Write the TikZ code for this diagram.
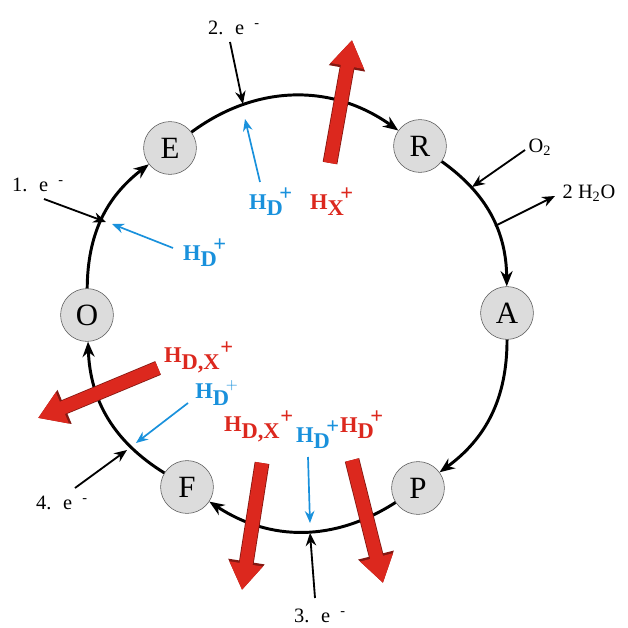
\documentclass[tikz,border=0pt]{standalone}
\usepackage{fontspec}
\setmainfont{Liberation Serif}
\usetikzlibrary{arrows.meta}
\definecolor{protonblue}{RGB}{25,145,220}
\definecolor{protonred}{RGB}{220,40,30}
\definecolor{statefill}{RGB}{220,220,220}
\tikzset{
  intermediate/.style={circle, draw=black!65, thin, fill=statefill,
    minimum size=1.32cm, inner sep=0pt, font=\fontsize{22}{24}\selectfont},
  cyclearrow/.style={-{Stealth[length=0.38cm, width=0.3cm]}, line width=2.1pt},
  electron/.style={-{Stealth[length=0.32cm, width=0.26cm]}, line width=1.3pt},
  uptake/.style={-{Stealth[length=0.3cm, width=0.24cm]}, line width=1.2pt, protonblue},
  pumpedge/.style={-{Triangle[length=0.72cm, width=0.87cm]}, line width=0.37cm, protonred!60!black},
  pump/.style={-{Triangle[length=0.66cm, width=0.8cm]}, line width=0.33cm, protonred},
  elbl/.style={font=\fontsize{14.5}{16}\selectfont, inner sep=1pt},
  hblue/.style={text=protonblue, font=\fontsize{16}{18}\selectfont\bfseries, inner sep=0pt},
  hred/.style={text=protonred, font=\fontsize{16}{18}\selectfont\bfseries, inner sep=0pt},
}

\begin{document}
\begin{tikzpicture}[x=0.025cm, y=-0.025cm]
\useasboundingbox (0,0) rectangle (627,628);

% the six states of the cycle
\node[intermediate] (E) at (170,148) {E};
\node[intermediate] (R) at (420,146) {R};
\node[intermediate] (A) at (507,313) {A};
\node[intermediate] (P) at (418,488) {P};
\node[intermediate] (F) at (187,487) {F};
\node[intermediate] (O) at (87,315)  {O};

\draw[cyclearrow] (O) to[bend left=26] (E);
\draw[cyclearrow] (E) to[bend left=36] (R);
\draw[cyclearrow] (R) to[bend left=27] (A);
\draw[cyclearrow] (A) to[bend left=27] (P);
\draw[cyclearrow] (P) to[bend left=33] (F);
\draw[cyclearrow] (F) to[bend left=28] (O);

% electrons, oxygen and water
\node[elbl] (e1) at (38,185)  {1.~ e~ \textsuperscript{-}};
\node[elbl] (e2) at (234,28)  {2.~ e~ \textsuperscript{-}};
\node[elbl] (e3) at (320,616) {3.~ e~ \textsuperscript{-}};
\node[elbl] (e4) at (62,503)  {4.~ e~ \textsuperscript{-}};
\node[elbl] (ox) at (540,147) {O\textsubscript{2}};
\node[elbl] (wa) at (589,193) {2 H\textsubscript{2}O};

\coordinate (e1a) at (44,199);  \coordinate (e1b) at (106,222);
\coordinate (e2a) at (230,42);  \coordinate (e2b) at (243,104);
\coordinate (e3a) at (315,598); \coordinate (e3b) at (310,533);
\coordinate (e4a) at (75,488);  \coordinate (e4b) at (127,450);
\coordinate (oxa) at (525,150); \coordinate (oxb) at (472,187);
\coordinate (waa) at (495,226); \coordinate (wab) at (555,196);

\draw[electron] (e1a) -- (e1b);
\draw[electron] (e2a) -- (e2b);
\draw[electron] (e3a) -- (e3b);
\draw[electron] (e4a) -- (e4b);
\draw[electron] (oxa) -- (oxb);
\draw[electron] (waa) -- (wab);

% protons
\node[hblue] (hd1) at (271,202) {H$_{\textbf{D}}\mkern-3mu{}^{\textbf{+}}$};
\node[hred]  (hx)  at (332,202) {H$_{\textbf{X}}\mkern-3mu{}^{\textbf{+}}$};
\node[hblue] (hd2) at (205,253) {H$_{\textbf{D}}\mkern-3mu{}^{\textbf{+}}$};
\node[hred]  (hdx1) at (199,357) {H$_{\textbf{D,X}}{}^{\textbf{+}}$};
\node[hblue] (hd3) at (217,393) {H$_{\textbf{D}}\mkern-3mu{}^{+}$};
\node[hred]  (hdx2) at (259,426) {H$_{\textbf{D,X}}{}^{\textbf{+}}$};
\node[hblue] (hd4) at (318,435) {H$_{\textbf{D}}\mkern-3mu{}^{\textbf{+}}$};
\node[hred]  (hd5) at (362,425) {H$_{\textbf{D}}\mkern-3mu{}^{\textbf{+}}$};

\coordinate (u1a) at (260,182); \coordinate (u1b) at (245,119);
\coordinate (u2a) at (173,248); \coordinate (u2b) at (112,224);
\coordinate (u3a) at (188,403); \coordinate (u3b) at (136,443);
\coordinate (u4a) at (308,457); \coordinate (u4b) at (310,523);

\draw[uptake] (u1a) -- (u1b);
\draw[uptake] (u2a) -- (u2b);
\draw[uptake] (u3a) -- (u3b);
\draw[uptake] (u4a) -- (u4b);

\coordinate (p1a) at (330,163); \coordinate (p1b) at (352,40);
\coordinate (p2a) at (158,368); \coordinate (p2b) at (38,418);
\coordinate (p3a) at (262,463); \coordinate (p3b) at (242,590);
\coordinate (p4a) at (352,460); \coordinate (p4b) at (383,583);

\foreach \p in {p1,p2,p3,p4} {
  \draw[pumpedge] (\p a) -- (\p b);
  \draw[pump] (\p a) -- (\p b);
}

\end{tikzpicture}
\end{document}
